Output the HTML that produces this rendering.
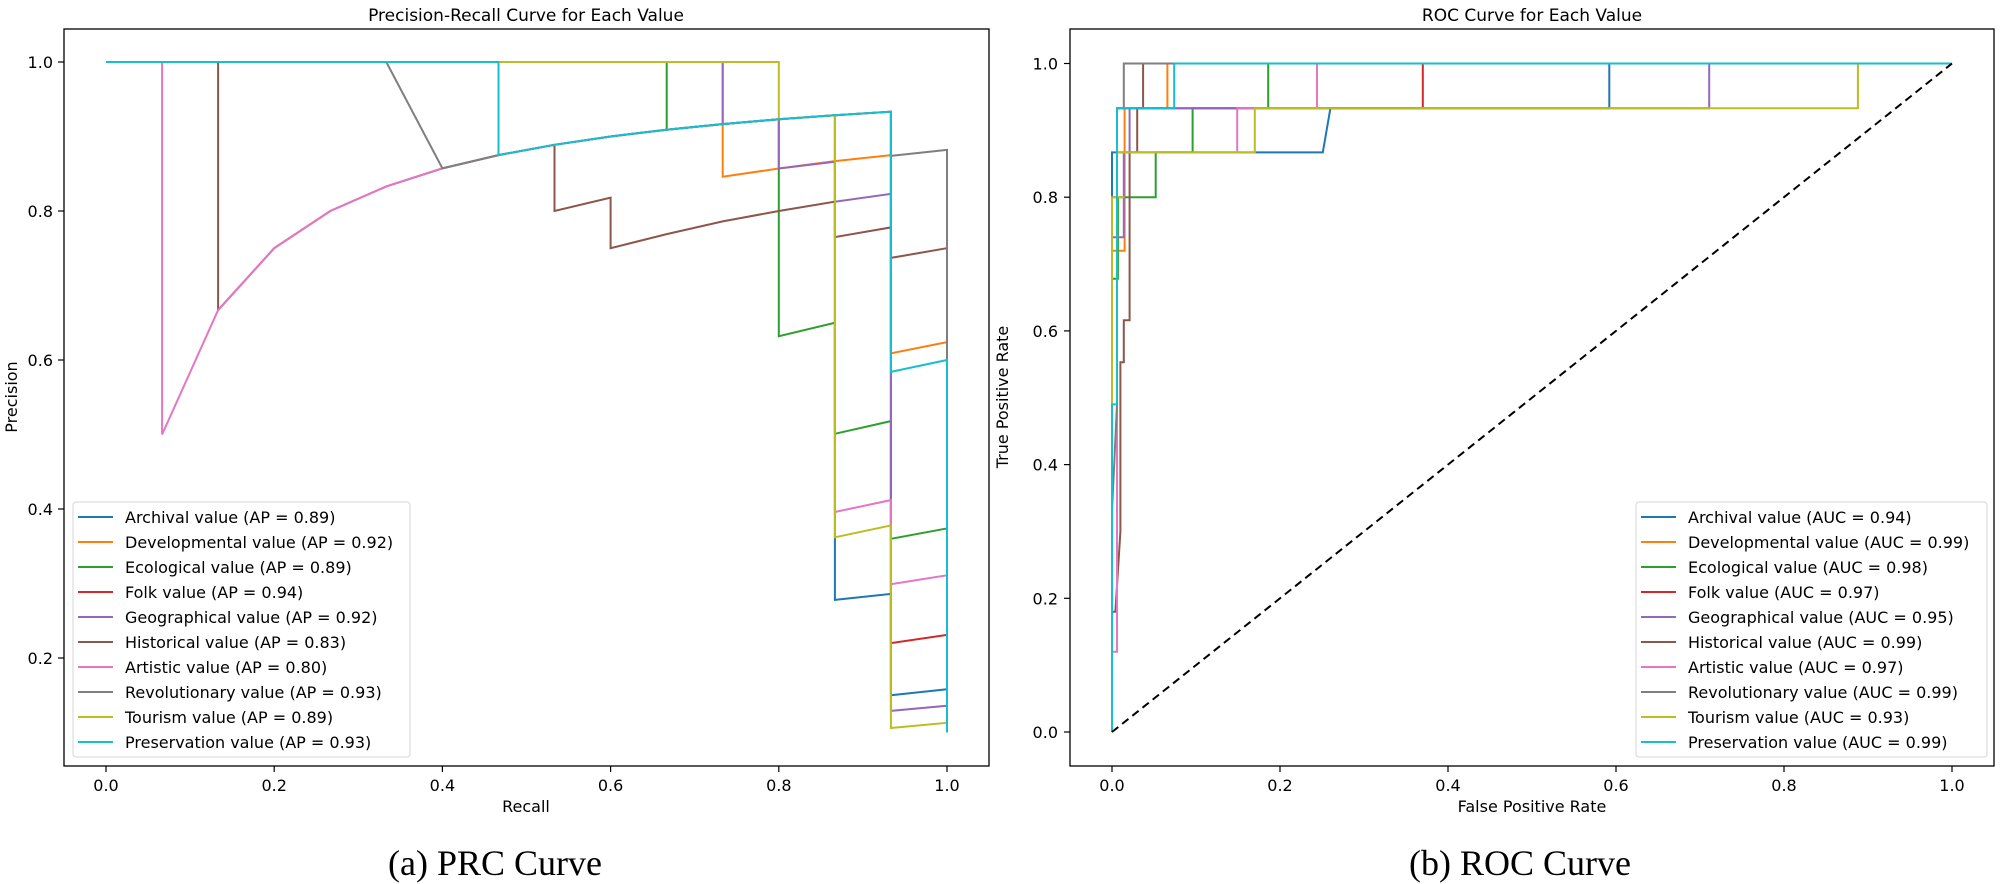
<!DOCTYPE html>
<html><head><meta charset="utf-8"><style>
html,body{margin:0;padding:0;background:#fff;}
svg{display:block;}
text{font-family:"DejaVu Sans","Liberation Sans",sans-serif;fill:#000;}
</style></head><body>
<svg id="s" width="2000" height="884" xmlns="http://www.w3.org/2000/svg">
<rect width="2000" height="884" fill="#fff"/>
<g id="L"></g><g id="R"></g>
<text x="526" y="21" font-size="17" text-anchor="middle">Precision-Recall Curve for Each Value</text>
<text x="1532" y="21" font-size="17" text-anchor="middle">ROC Curve for Each Value</text>
<text x="526" y="812" font-size="16" text-anchor="middle">Recall</text>
<text x="1532" y="812" font-size="16" text-anchor="middle">False Positive Rate</text>
<text transform="translate(17,397) rotate(-90)" font-size="16" text-anchor="middle">Precision</text>
<text transform="translate(1008,397) rotate(-90)" font-size="16" text-anchor="middle">True Positive Rate</text>
<text x="495" y="875" font-size="36" text-anchor="middle" style="font-family:'Liberation Serif',serif">(a) PRC Curve</text>
<text x="1520" y="875" font-size="36" text-anchor="middle" style="font-family:'Liberation Serif',serif">(b) ROC Curve</text>
</svg>
<script>
const NS="http://www.w3.org/2000/svg";
const C=["#1f77b4","#ff7f0e","#2ca02c","#d62728","#9467bd","#8c564b","#e377c2","#7f7f7f","#bcbd22","#17becf"];
const names=["Archival value","Developmental value","Ecological value","Folk value","Geographical value","Historical value","Artistic value","Revolutionary value","Tourism value","Preservation value"];
const ap=["0.89","0.92","0.89","0.94","0.92","0.83","0.80","0.93","0.89","0.93"];
const auc=["0.94","0.99","0.98","0.97","0.95","0.99","0.97","0.99","0.93","0.99"];
function el(p,t,a,txt){const e=document.createElementNS(NS,t);for(const k in a)e.setAttribute(k,a[k]);if(txt!==undefined)e.textContent=txt;p.appendChild(e);return e;}
const L=document.getElementById("L"),R=document.getElementById("R");
const lx=r=>106+r*841, ly=p=>658-(p-0.2)*745;
const rx=f=>1112+f*840, ry=t=>732-t*668.5;
const k=n=>n/15;
function shared(a,b){const o=[];for(let i=a;i<=b;i++)o.push([k(i),i/(i+1)]);return o;}
const PR=[
 [[0,1],[k(7),1],...shared(7,13),[k(13),0.278],[k(14),0.286],[k(14),0.150],[1,0.158],[1,0.1]],
 [[0,1],[k(11),1],[k(11),0.917],[k(11),0.846],[k(12),0.857],[k(13),0.867],[k(14),0.875],[k(14),0.609],[1,0.624],[1,0.1]],
 [[0,1],[k(10),1],...shared(10,12),[k(12),0.632],[k(13),0.650],[k(13),0.501],[k(14),0.518],[k(14),0.36],[1,0.374],[1,0.1]],
 [[0,1],[k(7),1],...shared(7,14),[k(14),0.22],[1,0.231],[1,0.1]],
 [[0,1],[k(11),1],...shared(11,12),[k(12),0.857],[k(13),0.866],[k(13),0.8125],[k(14),0.823],[k(14),0.129],[1,0.136],[1,0.1]],
 [[0,1],[k(2),1],[k(2),0.667],[k(3),0.75],[k(4),0.8],[k(5),0.833],...shared(6,8),[k(8),0.8],[k(9),0.818],[k(9),0.75],[k(10),0.769],[k(11),0.786],[k(12),0.8],[k(13),0.8125],[k(13),0.765],[k(14),0.778],[k(14),0.737],[1,0.75],[1,0.1]],
 [[0,1],[k(1),1],[k(1),0.5],[k(2),0.667],[k(3),0.75],[k(4),0.8],[k(5),0.833],...shared(6,13),[k(13),0.396],[k(14),0.412],[k(14),0.299],[1,0.311],[1,0.1]],
 [[0,1],[k(5),1],...shared(6,14),[k(14),0.874],[1,0.882],[1,0.1]],
 [[0,1],[k(12),1],...shared(12,13),[k(13),0.362],[k(14),0.378],[k(14),0.106],[1,0.113],[1,0.1]],
 [[0,1],[k(7),1],...shared(7,14),[k(14),0.584],[1,0.6],[1,0.1]]
];
const ROC=[
 [[0,0],[0,0.867],[0.251,0.867],[0.26,0.933],[0.592,0.933],[0.592,1],[1,1]],
 [[0,0],[0,0.72],[0.015,0.72],[0.015,0.933],[0.066,0.933],[0.066,1],[1,1]],
 [[0,0],[0,0.678],[0.007,0.678],[0.007,0.8],[0.052,0.8],[0.052,0.867],[0.096,0.867],[0.096,0.933],[0.186,0.933],[0.186,1],[1,1]],
 [[0,0],[0,0.8],[0.006,0.8],[0.006,0.933],[0.37,0.933],[0.37,1],[1,1]],
 [[0,0],[0,0.74],[0.014,0.74],[0.014,0.867],[0.021,0.867],[0.021,0.933],[0.711,0.933],[0.711,1],[1,1]],
 [[0,0],[0,0.18],[0.004,0.18],[0.01,0.3],[0.01,0.553],[0.014,0.553],[0.014,0.616],[0.021,0.616],[0.021,0.867],[0.03,0.867],[0.03,0.933],[0.037,0.933],[0.037,1],[1,1]],
 [[0,0],[0,0.12],[0.006,0.12],[0.006,0.867],[0.149,0.867],[0.149,0.933],[0.244,0.933],[0.244,1],[1,1]],
 [[0,0],[0,0.33],[0.006,0.49],[0.006,0.933],[0.014,0.933],[0.014,1],[1,1]],
 [[0,0],[0,0.8],[0.015,0.8],[0.006,0.8],[0.006,0.867],[0.170,0.867],[0.170,0.933],[0.888,0.933],[0.888,1],[1,1]],
 [[0,0],[0,0.49],[0.006,0.49],[0.006,0.933],[0.074,0.933],[0.074,1],[1,1]]
];
function poly(g,pts,fx,fy,col,extra){el(g,"polyline",Object.assign({points:pts.map(p=>fx(p[0]).toFixed(1)+","+fy(p[1]).toFixed(1)).join(" "),fill:"none",stroke:col,"stroke-width":2,"stroke-linejoin":"miter"},extra||{}));}
PR.forEach((s,i)=>poly(L,s,lx,ly,C[i]));
ROC.forEach((s,i)=>poly(R,s,rx,ry,C[i]));
el(R,"line",{x1:rx(0),y1:ry(0),x2:rx(1),y2:ry(1),stroke:"#000","stroke-width":2,"stroke-dasharray":"8,5"});
function frame(g,x0,x1){el(g,"rect",{x:x0,y:29,width:x1-x0,height:737,fill:"none",stroke:"#000","stroke-width":1.3});}
frame(L,64,989);frame(R,1070,1994);
for(let i=0;i<=5;i++){const v=i*0.2,t=v.toFixed(1);
 let x=lx(v);el(L,"line",{x1:x,y1:766,x2:x,y2:772,stroke:"#000","stroke-width":1.2});el(L,"text",{x:x,y:791,"font-size":16,"text-anchor":"middle"},t);
 x=rx(v);el(R,"line",{x1:x,y1:766,x2:x,y2:772,stroke:"#000","stroke-width":1.2});el(R,"text",{x:x,y:791,"font-size":16,"text-anchor":"middle"},t);
 let y=ry(v);el(R,"line",{x1:1064,y1:y,x2:1070,y2:y,stroke:"#000","stroke-width":1.2});el(R,"text",{x:1058,y:y+6,"font-size":16,"text-anchor":"end"},t);
 if(i>0){y=ly(v);el(L,"line",{x1:58,y1:y,x2:64,y2:y,stroke:"#000","stroke-width":1.2});el(L,"text",{x:53,y:y+6,"font-size":16,"text-anchor":"end"},t);}
}
function legend(g,x0,x1,lab){el(g,"rect",{x:x0,y:502,width:x1-x0,height:255,rx:3,fill:"#fff","fill-opacity":0.8,stroke:"#d6d6d6","stroke-width":1});
 for(let i=0;i<10;i++){const y=517+i*25;el(g,"line",{x1:x0+5,y1:y,x2:x0+40,y2:y,stroke:C[i],"stroke-width":2});el(g,"text",{x:x0+52,y:y+6,"font-size":16},lab(i));}}
legend(L,73,410,i=>names[i]+" (AP = "+ap[i]+")");
legend(R,1636,1987,i=>names[i]+" (AUC = "+auc[i]+")");
</script>
</body></html>
